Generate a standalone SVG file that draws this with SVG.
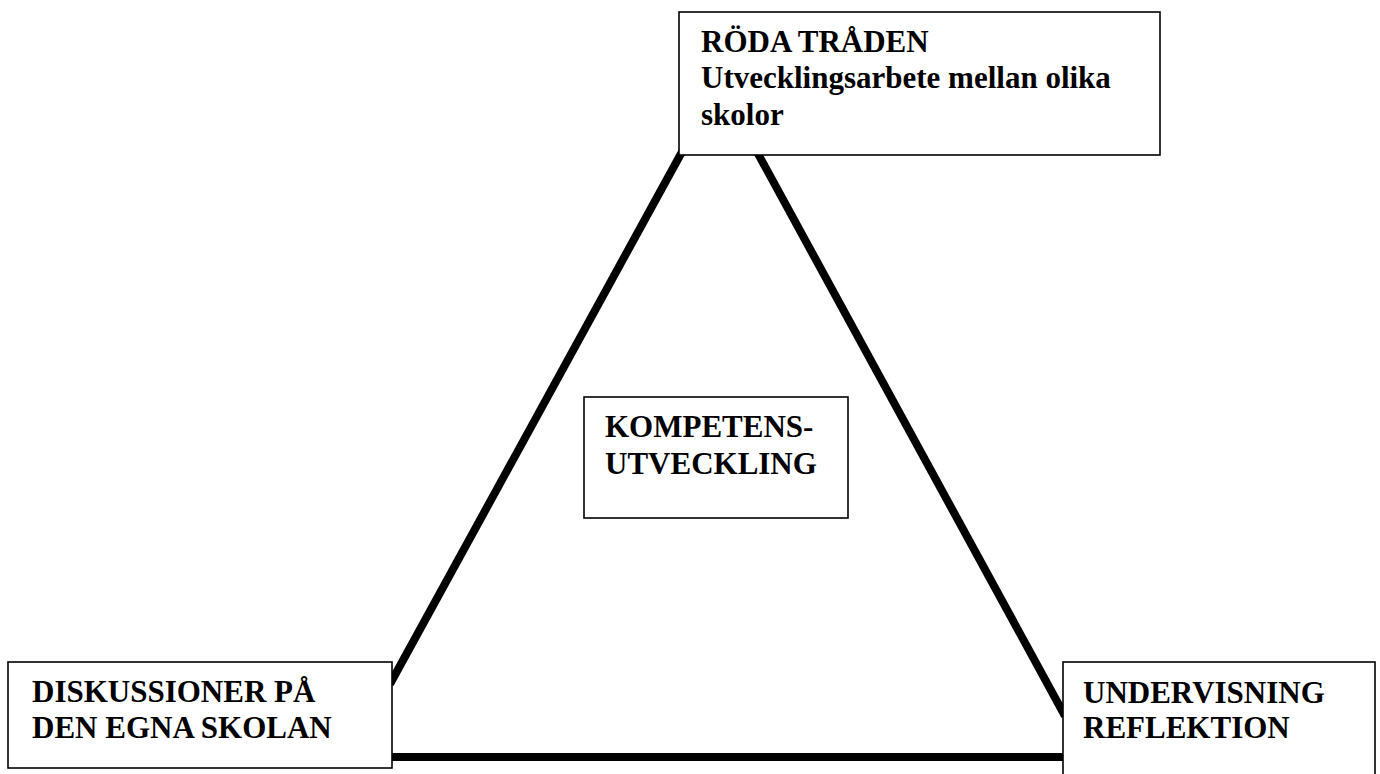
<svg xmlns="http://www.w3.org/2000/svg" width="1380" height="774" viewBox="0 0 1380 774">
<style>
.box{fill:#fff;stroke:#000;stroke-width:1.6}
.t{font-family:"Liberation Serif","Times New Roman",serif;font-weight:bold;font-size:31px;fill:#000}
.edge{stroke:#000;stroke-width:8;fill:none;stroke-linecap:butt}
</style>
<rect width="1380" height="774" fill="#fff"/>
<g id="connectors">
<line class="edge" x1="683" y1="150" x2="390" y2="684"/>
<line class="edge" x1="756" y1="150" x2="1065" y2="716"/>
<line class="edge" x1="390" y1="757" x2="1064" y2="757"/>
</g>
<g id="node-roda-traden">
<rect class="box" x="679" y="12" width="481" height="143"/>
<text class="t" x="701" y="52">RÖDA TRÅDEN</text>
<text class="t" x="701" y="88">Utvecklingsarbete mellan olika</text>
<text class="t" x="701" y="125">skolor</text>
</g>
<g id="node-kompetens">
<rect class="box" x="584" y="397" width="264" height="121"/>
<text class="t" x="605" y="437">KOMPETENS-</text>
<text class="t" x="605" y="474">UTVECKLING</text>
</g>
<g id="node-diskussioner">
<rect class="box" x="8" y="662" width="384" height="106"/>
<text class="t" x="32" y="702">DISKUSSIONER PÅ</text>
<text class="t" x="32" y="738">DEN EGNA SKOLAN</text>
</g>
<g id="node-undervisning">
<rect class="box" x="1063" y="662" width="312" height="140"/>
<text class="t" x="1083" y="703">UNDERVISNING</text>
<text class="t" x="1083" y="738">REFLEKTION</text>
</g>
</svg>
